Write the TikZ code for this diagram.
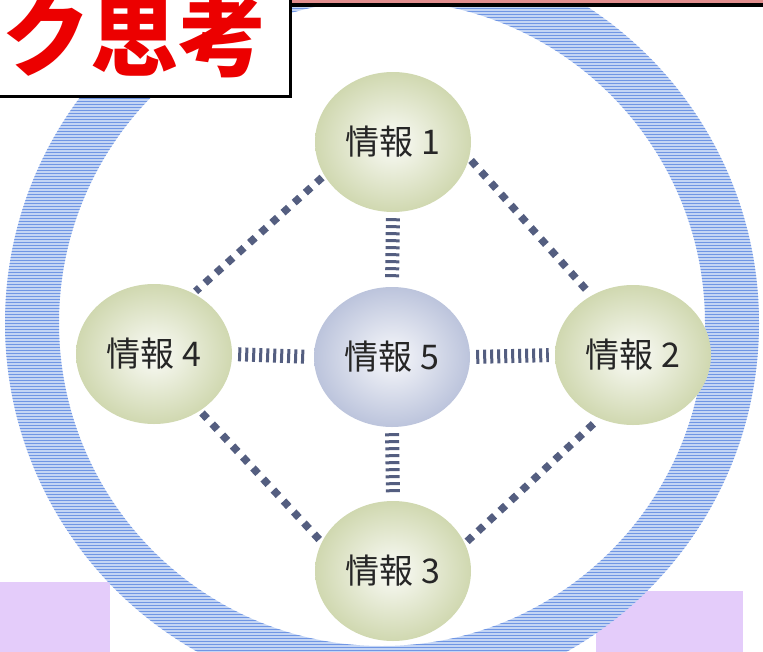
\documentclass[tikz,border=0pt]{standalone}
\usepackage{fontspec}
\usepackage{tikz}
\usetikzlibrary{shapes,backgrounds,patterns}
\newfontfamily\jpfont{Noto Sans CJK JP}
\definecolor{ringblue}{RGB}{196,213,244}
\definecolor{ringdash}{RGB}{112,150,228}
\definecolor{lilac}{RGB}{228,204,250}
\definecolor{titlered}{RGB}{236,0,0}
\definecolor{rosebar}{RGB}{226,142,142}
\definecolor{linkgray}{RGB}{84,94,128}
\definecolor{ballgreen}{RGB}{208,216,176}
\definecolor{ballblue}{RGB}{188,196,220}

\begin{document}
\begin{tikzpicture}[x=1pt,y=-1pt,
	ball/.style={ellipse,minimum width=156pt,minimum height=140pt,inner sep=0pt,
		shade,inner color=white!90!ballgreen,outer color=ballgreen,
		font=\jpfont\fontsize{34}{34}\selectfont,text=black!85},
	hub/.style={ball,inner color=white!88!ballblue,outer color=ballblue},
	ladder/.style={draw=linkgray,line width=14pt,dash pattern=on 3pt off 4pt,
		shorten >=6pt,shorten <=6pt},
	dotlink/.style={draw=linkgray,line width=7.5pt,dash pattern=on 7.5pt off 7.5pt,
		shorten >=3pt,shorten <=3pt}]
	\useasboundingbox (0,0) rectangle (763,651);
	\clip (0,0) rectangle (763,651);
	
	% draw lilac boxes
	\fill[lilac] (-5,582) rectangle (110,660);
	\fill[lilac] (596,591) rectangle (743,660);
	
	% draw ring
	\fill[ringblue,even odd rule] (382,323) circle (377pt) (382,323) circle (323pt);
	\fill[pattern=horizontal lines,pattern color=ringdash,even odd rule] (382,323) circle (377pt) (382,323) circle (323pt);
	
	% draw nodes
	\node[ball] (info1) at (393,142) {情報 1};
	\node[ball] (info2) at (633,355) {情報 2};
	\node[ball] (info3) at (393,571) {情報 3};
	\node[ball] (info4) at (154,354) {情報 4};
	\node[hub] (info5) at (392,357) {情報 5};
	
	% draw links
	\draw[ladder] (info1.south) -- (info5.north);
	\draw[ladder] (info5.south) -- (info3.north);
	\draw[ladder] (info4.east) -- (info5.west);
	\draw[ladder] (info5.east) -- (info2.west);
	\draw[dotlink] (info1.206) -- (info4.57);
	\draw[dotlink] (info1.-12) -- (info2.125);
	\draw[dotlink] (info4.-51) -- (info3.158);
	\draw[dotlink] (info3.21) -- (info2.242);
	
	% draw title boxes
	\draw[fill=rosebar,line width=4pt] (286,-20) rectangle (790,5);
	\draw[fill=white,line width=3pt] (-20,-20) rectangle (290,96);
	\node[anchor=base,inner sep=0pt,text=titlered,font=\jpfont\bfseries\fontsize{88}{88}\selectfont] (title) at (134,69) {ク思考};
\end{tikzpicture}
\end{document}
